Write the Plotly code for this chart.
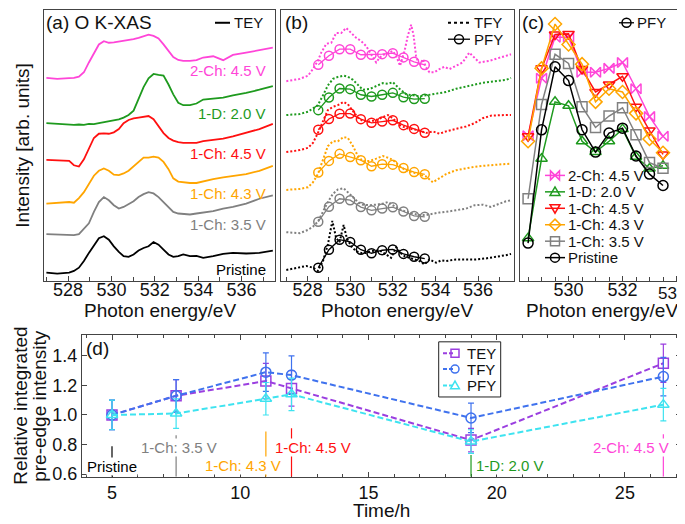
import plotly.graph_objects as go

W, H = 685, 524
FONT = "Liberation Sans, Arial, Helvetica, sans-serif"


def fx(p):
    return p / W


def fy(p):
    return 1 - p / H


# ---------------- data ----------------
states = ["Pristine", "1-Ch: 3.5 V", "1-Ch: 4.3 V", "1-Ch: 4.5 V", "1-D: 2.0 V", "2-Ch: 4.5 V"]
colors = ["#000000", "#808080", "#ffa500", "#ff1010", "#1e9a1e", "#ff45d8"]
pfy_symbols = ["circle-open", "square-open", "diamond-open", "triangle-down-open",
               "triangle-up-open", "bowtie-open"]

# (a) TEY, stacked spectra (arb. units)
energy_tey = [527.0, 527.5, 528.05, 528.27, 528.5, 528.73, 528.96, 529.19, 529.42, 529.65,
              529.88, 530.11, 530.34, 530.56, 530.79, 531.02, 531.25, 531.48, 531.71, 531.94,
              532.17, 532.4, 532.63, 532.85, 533.08, 533.31, 533.62, 533.92, 534.23, 534.69,
              535.15, 535.6, 536.21, 536.82, 537.44]
tey_pristine = [8.3, 7.3, 8.3, 10, 13.3, 20, 28.3, 36, 43.3, 45.3, 41.7, 35, 29.3, 25, 24.3,
                26.7, 30.7, 33.3, 35, 39.3, 36.7, 31.7, 26.7, 24.3, 25, 26.7, 25, 25.3, 23.3,
                25, 27.3, 28.3, 27.7, 28.3, 30.7]
tey_ch35 = [47.3, 46.7, 46.7, 46.3, 47.3, 52.7, 58.3, 70, 80, 85, 81.7, 76.7, 73.3, 75, 77.7,
            80.7, 85, 88, 90, 88.7, 85, 80, 74, 70, 68.3, 68, 67.3, 68.3, 69.3, 70.7, 73.3,
            75, 78.3, 83.3, 86.7]
tey_ch43 = [78.3, 79.3, 80, 79.3, 84, 90, 98.3, 106.7, 111.7, 114, 111.7, 107.7, 107.3, 109,
            111.7, 116, 120.7, 125, 125, 126, 125, 120.7, 113.3, 104, 100.7, 100, 99.3, 99.3,
            101, 103.3, 105, 106.7, 108.3, 111.7, 116.7]
tey_ch45 = [122.7, 122.3, 121.7, 117.3, 116, 123.3, 135, 145, 149.3, 149.7, 149.3, 150.7, 154,
            160, 163.3, 165, 165.7, 166.7, 167.3, 164, 157.3, 150, 145, 142.3, 140.7, 140, 140,
            140, 141.7, 142.7, 144.3, 146.7, 150, 154, 159.3]
tey_d20 = [160, 159.3, 158.3, 158.3, 158.7, 158.3, 159.3, 159, 160, 161, 162, 162.7, 164,
           165.7, 168.3, 172.7, 184, 196.7, 205.7, 210, 209, 208.3, 199.3, 189.3, 180.7, 178.3,
           178.3, 180, 184, 184.7, 186, 188.3, 190.7, 194, 197.7]
tey_2ch45 = [206, 205, 205.7, 206, 207.3, 211.7, 221.7, 230.7, 240, 243.3, 241.7, 242, 242.7,
             243.3, 244.3, 245.3, 246.7, 248.3, 250, 248.7, 246, 240, 233.3, 227.3, 224.3,
             223.3, 223.3, 224, 226.7, 228, 224, 229.3, 231.7, 234, 236.7]
tey_all = [tey_pristine, tey_ch35, tey_ch43, tey_ch45, tey_d20, tey_2ch45]

# (b) TFY, stacked spectra
energy_tfy_pristine = [527.0, 527.47, 527.94, 528.25, 528.48, 528.72, 528.95, 529.16, 529.34,
                       529.5, 529.69, 529.84, 530.05, 530.28, 530.52, 530.75, 530.98, 531.22,
                       531.45, 531.69, 531.92, 532.16, 532.36, 532.55, 532.78, 533.02, 533.25,
                       533.48, 533.72, 534.03, 534.27, 534.5, 534.97, 535.44, 535.91, 536.38,
                       536.84, 537.31, 537.55]
tfy_pristine = [11, 13.3, 15, 13.3, 10, 20, 36.7, 60.7, 43.3, 39.3, 56.7, 43.3, 35, 30, 28.3,
                28.3, 30, 30.7, 30, 26.7, 23.3, 34, 28.3, 25, 23.3, 21.7, 20, 16.7, 21.7, 18.3,
                20.7, 20, 21.7, 21.7, 21.7, 22.7, 24, 26, 27.3]
energy_tfy = [527.0, 527.63, 528.02, 528.25, 528.48, 528.72, 528.95, 529.19, 529.42, 529.69,
              529.89, 530.13, 530.36, 530.59, 530.91, 531.22, 531.53, 531.77, 532.0, 532.31,
              532.63, 532.94, 533.25, 533.56, 533.88, 534.19, 534.5, 534.97, 535.44, 535.83,
              536.22, 536.61, 537.0, 537.31, 537.55]
tfy_ch35 = [49.3, 48.3, 51.7, 55, 60, 70, 80, 88.3, 92.7, 94, 90, 85, 80, 77.3, 76.7, 77.3,
            78.3, 80, 76.7, 72.7, 70, 68.3, 66.7, 66.7, 68.3, 69.3, 70, 71.7, 73.3, 76.7, 77.3,
            75, 78.3, 80.7, 81.7]
tfy_ch43 = [92.3, 93.3, 95, 100, 108.3, 123.3, 136.7, 141.7, 141.7, 146, 145, 136.7, 126.7,
            121.3, 121.7, 124, 126.7, 125, 122.7, 116.7, 111.7, 110, 108.3, 106, 100, 104,
            108.3, 112.3, 114.3, 115.7, 116.7, 117.3, 118.3, 118.7, 119]
tfy_ch45 = [130.7, 132.7, 135, 140, 150, 161.7, 173.3, 176.7, 178.3, 181.7, 179.3, 172.3,
            165.7, 162.3, 161.7, 163.3, 166, 168.3, 165, 158.3, 155, 154, 152.7, 150, 151.7,
            149.3, 151.7, 154.3, 156.7, 160, 165, 167.7, 168.3, 168.3, 168.3]
tfy_d20 = [168.3, 169.3, 171.7, 175, 178.3, 188.3, 198.3, 205, 207, 208.3, 207.3, 204, 199,
           194, 194.7, 198, 200.7, 200, 201.7, 195, 189.3, 188.3, 187.3, 188.3, 189.3, 190.7,
           191.7, 195, 197.3, 199, 201, 202, 203, 204, 206]
energy_tfy_2ch = [527.0, 527.63, 528.02, 528.25, 528.48, 528.64, 528.88, 529.11, 529.34,
                  529.58, 529.81, 530.05, 530.28, 530.52, 530.75, 530.98, 531.22, 531.38,
                  531.61, 531.84, 532.0, 532.16, 532.34, 532.55, 532.7, 532.86, 532.97, 533.09,
                  533.25, 533.41, 533.56, 533.72, 533.95, 534.19, 534.42, 534.66, 534.97,
                  535.28, 535.59, 535.83, 536.06, 536.53, 537.0, 537.55]
tfy_2ch45 = [202.7, 205, 208.3, 215, 223.3, 231.7, 240.7, 241.7, 251.7, 251.7, 256.7, 251.7,
             246.7, 243.3, 238.3, 230, 221.7, 226.7, 230, 231.7, 233.3, 228.3, 218.3, 233.3,
             248.3, 260, 250, 228.3, 218.3, 225, 216.7, 211.7, 211.7, 215, 217.3, 215, 218.3,
             221.7, 231.7, 226.7, 221.7, 223.3, 226.7, 230]
tfy_x_all = [energy_tfy_pristine, energy_tfy, energy_tfy, energy_tfy, energy_tfy, energy_tfy_2ch]
tfy_all = [tfy_pristine, tfy_ch35, tfy_ch43, tfy_ch45, tfy_d20, tfy_2ch45]

# (c) PFY (overlaid) ; (b) uses the same PFY scaled down and stacked
energy_pfy = [528.5, 529.0, 529.5, 530.0, 530.5, 531.0, 531.5, 532.0, 532.5, 533.0, 533.5]
pfy_pristine = [38.3, 153.3, 217.3, 203.3, 153.3, 130.7, 150, 155, 126.7, 108.3, 96.7]
pfy_ch35 = [83.3, 179, 230, 220.7, 176.7, 155.7, 167.3, 175.7, 148.3, 120, 114.3]
pfy_ch43 = [141.7, 215.7, 260.7, 240, 220, 181.7, 195, 191.7, 170, 144, 130]
pfy_ch45 = [146.7, 215.7, 250, 250.7, 215, 191.7, 199.3, 207.7, 176.7, 152.7, 128.3]
pfy_d20 = [43.3, 124, 181.7, 177.7, 141.7, 130.7, 141.7, 154, 126, 114, 116.7]
pfy_2ch45 = [147.3, 205.7, 247.3, 247.3, 211.7, 211.7, 215.7, 221.7, 195, 166.7, 146.7]
pfy_all = [pfy_pristine, pfy_ch35, pfy_ch43, pfy_ch45, pfy_d20, pfy_2ch45]
pfy_b_scale = 1 / 6.3
pfy_b_offset = [7.2, 46.8, 87.5, 130.0, 166.4, 195.9]
c_tick_vals = [530, 532, 534]

# (d) relative integrated pre-edge intensity
time_h = [5, 7.5, 11, 12, 19, 26.5]
time_labels = states
rel_tey = [1.00, 1.13, 1.23, 1.18, 0.83, 1.35]
rel_tey_err = [0.10, 0.11, 0.12, 0.12, 0.08, 0.13]
rel_tfy = [1.00, 1.13, 1.29, 1.27, 0.98, 1.26]
rel_tfy_err = [0.10, 0.11, 0.13, 0.13, 0.10, 0.13]
rel_pfy = [1.00, 1.01, 1.11, 1.14, 0.82, 1.07]
rel_pfy_err = [0.10, 0.10, 0.11, 0.11, 0.08, 0.11]
d_names = ["TEY", "TFY", "PFY"]
d_colors = ["#9b3fe0", "#3f72ee", "#3ee3f0"]
d_symbols = ["square-open", "circle-open", "triangle-up-open"]

# ---------------- figure ----------------
fig = go.Figure()

for i in range(6):
    fig.add_trace(go.Scatter(x=energy_tey, y=tey_all[i], mode="lines", xaxis="x", yaxis="y",
                             line=dict(color=colors[i], width=1.8), showlegend=False))

for i in range(6):
    fig.add_trace(go.Scatter(x=tfy_x_all[i], y=tfy_all[i], mode="lines", xaxis="x2", yaxis="y2",
                             line=dict(color=colors[i], width=2, dash="2px,2px"), showlegend=False))
    yb = [pfy_b_offset[i] + v * pfy_b_scale for v in pfy_all[i]]
    fig.add_trace(go.Scatter(x=energy_pfy, y=yb, mode="lines+markers", xaxis="x2", yaxis="y2",
                             line=dict(color=colors[i], width=1.3),
                             marker=dict(symbol="circle-open", size=9, color=colors[i],
                                         line=dict(width=1.5)),
                             showlegend=False))

for i in [5, 4, 3, 2, 1, 0]:
    fig.add_trace(go.Scatter(x=energy_pfy, y=pfy_all[i], mode="lines+markers", xaxis="x3", yaxis="y3",
                             line=dict(color=colors[i], width=1.5),
                             marker=dict(symbol=pfy_symbols[i], size=10, color=colors[i],
                                         line=dict(width=1.5)),
                             showlegend=False))

for vals, errs, nm, col, sym in zip([rel_tey, rel_tfy, rel_pfy], [rel_tey_err, rel_tfy_err, rel_pfy_err],
                                    d_names, d_colors, d_symbols):
    fig.add_trace(go.Scatter(x=time_h, y=vals, mode="lines+markers", xaxis="x4", yaxis="y4", name=nm,
                             line=dict(color=col, width=2, dash="6px,3px"),
                             marker=dict(symbol=sym, size=10, color=col, line=dict(width=1.5)),
                             error_y=dict(type="data", array=errs, color=col, thickness=1.2, width=3),
                             showlegend=False))

AX = dict(showline=True, linecolor="#444", linewidth=1, mirror=True, showgrid=False,
          zeroline=False, tickcolor="#444", tickfont=dict(size=18, color="#111"))
AXD = dict(AX)
AXD["mirror"] = "ticks"

fig.update_layout(
    width=W, height=H, margin=dict(l=0, r=0, t=0, b=0),
    paper_bgcolor="white", plot_bgcolor="white",
    font=dict(family=FONT, size=15, color="#111"),
    showlegend=False,
    xaxis=dict(domain=[fx(36), fx(267)], range=[526.89, 537.54], tickvals=[528, 530, 532, 534, 536],
               ticks="inside", ticklen=5, ticklabelstandoff=-7,
               minor=dict(dtick=1, tick0=527, ticks="inside", ticklen=4, tickcolor="#444"),
               anchor="y", **AX),
    yaxis=dict(domain=[fy(277), fy(2)], range=[0, 275], showticklabels=False, ticks="", anchor="x", **AX),
    xaxis2=dict(domain=[fx(273), fx(506)], range=[526.75, 537.69], tickvals=[528, 530, 532, 534, 536],
                ticks="inside", ticklen=5, ticklabelstandoff=-7,
                minor=dict(dtick=1, tick0=527, ticks="inside", ticklen=4, tickcolor="#444"),
                anchor="y2", **AX),
    yaxis2=dict(domain=[fy(277), fy(2)], range=[0, 275], showticklabels=False, ticks="", anchor="x2", **AX),
    xaxis3=dict(domain=[fx(511.7), fx(672)], range=[528.19, 534.13], tickvals=c_tick_vals,
                ticktext=[str(v) for v in c_tick_vals[:-1]] + [""],
                ticks="inside", ticklen=5, ticklabelstandoff=-7,
                minor=dict(dtick=0.5, tick0=528, ticks="inside", ticklen=4, tickcolor="#444"),
                anchor="y3", **AX),
    yaxis3=dict(domain=[fy(277), fy(2)], range=[0, 275], showticklabels=False, ticks="", anchor="x3", **AX),
    xaxis4=dict(domain=[fx(74), fx(673.3)], range=[3.83, 27.2], tickvals=[5, 10, 15, 20, 25],
                ticks="inside", ticklen=5,
                minor=dict(dtick=1, tick0=0, ticks="inside", ticklen=3, tickcolor="#444"),
                anchor="y4", **AXD),
    yaxis4=dict(domain=[fy(476), fy(332)], range=[0.582, 1.542], tickvals=[0.6, 0.8, 1.0, 1.2, 1.4],
                ticktext=["0.6", "0.8", "1.0", "1.2", "1.4"], ticks="inside", ticklen=5, anchor="x4", **AXD),
)

ann = []
shapes = []


def text(x, y, s, size=15, color="#111", xanchor="left", yanchor="middle", angle=0, xref="paper",
         yref="paper", bg=None):
    d = dict(x=x, y=y, text=s, showarrow=False, xref=xref, yref=yref, xanchor=xanchor, yanchor=yanchor,
             textangle=angle, font=dict(size=size, color=color, family=FONT), borderpad=0)
    if bg:
        d["bgcolor"] = bg
    ann.append(d)


def key_line(x0, x1, y, color, dash="solid", width=1.5):
    shapes.append(dict(type="line", xref="paper", yref="paper", x0=fx(x0), x1=fx(x1), y0=fy(y), y1=fy(y),
                       line=dict(color=color, width=width, dash=dash)))


def key_marker(cx, cy, symbol, color, r=4.5):
    base = dict(xref="paper", yref="paper", xsizemode="pixel", ysizemode="pixel", xanchor=fx(cx),
                yanchor=fy(cy), line=dict(color=color, width=1.5))
    s = symbol.replace("-open", "")
    if s == "circle":
        shapes.append(dict(type="circle", x0=-r, x1=r, y0=-r, y1=r, **base))
    elif s == "square":
        shapes.append(dict(type="rect", x0=-r, x1=r, y0=-r, y1=r, **base))
    else:
        paths = {
            "diamond": f"M0,{r*1.25} L{r*1.25},0 L0,{-r*1.25} L{-r*1.25},0 Z",
            "triangle-up": f"M{-r*1.1},{-r*0.8} L{r*1.1},{-r*0.8} L0,{r*1.1} Z",
            "triangle-down": f"M{-r*1.1},{r*0.8} L{r*1.1},{r*0.8} L0,{-r*1.1} Z",
            "bowtie": f"M{r},{r} L{r},{-r} L{-r},{r} L{-r},{-r} Z",
        }
        shapes.append(dict(type="path", path=paths[s], **base))


# last tick label of panel (c), kept inside the page edge
text(fx(679), fy(290), str(c_tick_vals[-1]), size=17, xanchor="right")

# panel titles
text(fx(37), fy(15), "(a) O K-XAS", size=19)
text(fx(276), fy(15), "(b)", size=19)
text(fx(513), fy(15), "(c)", size=19)
text(fx(77), fy(346), "(d)", size=19)

# axis titles
for cx in [152, 389, 594]:
    text(fx(cx), fy(307), "Photon energy/eV", size=19, xanchor="center")
text(fx(15), fy(140), "Intensity [arb. units]", size=19, xanchor="center", angle=-90)
text(fx(373), fy(510), "Time/h", size=19, xanchor="center")
text(fx(13), fy(404), "Relative integrated", size=19, xanchor="center", angle=-90)
text(fx(32), fy(404), "pre-edge intensity", size=19, xanchor="center", angle=-90)

# (a) state labels
label_y_a = [11, 57, 89, 129, 170, 214]
for i in range(6):
    text(537.15, label_y_a[i], states[i], color=colors[i], xanchor="right", xref="x", yref="y")

# (a) legend
key_line(207, 222, 15, "#000", width=2)
text(fx(225), fy(15), "TEY")
# (b) legend
key_line(440, 462, 15, "#000", dash="dot", width=2)
text(fx(465), fy(15), "TFY")
key_line(440, 462, 31.7, "#000", width=1.3)
key_marker(451, 31.7, "circle", "#000")
text(fx(465), fy(31.7), "PFY")
# (c) legend
key_line(611, 626, 15, "#000", width=1.3)
key_marker(618.5, 15, "circle", "#000")
text(fx(628), fy(15), "PFY")
leg_y_c = [253.5, 236.8, 220.1, 203.4, 186.7, 170.0]
for i in range(6):
    key_line(537, 557, leg_y_c[i], colors[i], width=1.5)
    key_marker(547, leg_y_c[i], pfy_symbols[i], colors[i])
    text(fx(559), fy(leg_y_c[i]), states[i])

# (d) legend box
shapes.append(dict(type="rect", xref="paper", yref="paper", x0=fx(430.7), x1=fx(492.7), y0=fy(395),
                   y1=fy(339), line=dict(color="#222", width=1), fillcolor="white"))
leg_y_d = [350.7, 366.7, 383.3]
for i in range(3):
    key_line(435, 447, leg_y_d[i], d_colors[i], dash="4px,2px", width=2)
    key_marker(447, leg_y_d[i], d_symbols[i], d_colors[i], r=4)
    text(fx(458), fy(leg_y_d[i]), d_names[i])

# (d) state markers: vertical lines + labels
line_top = [0.789, 0.862, 0.889, 0.911, 0.729, 0.869]
lab_x = [5.0, 7.6, 10.1, 12.85, 19.15, 26.75]
lab_y = [0.654, 0.778, 0.655, 0.778, 0.655, 0.778]
lab_anchor = ["center", "center", "center", "center", "left", "right"]
for i in range(6):
    shapes.append(dict(type="line", xref="x4", yref="y4", x0=time_h[i], x1=time_h[i], y0=0.582,
                       y1=line_top[i], line=dict(color=colors[i], width=1.2)))
    text(lab_x[i], lab_y[i], time_labels[i], color=colors[i], xanchor=lab_anchor[i], xref="x4",
         yref="y4", bg="white")

fig.update_layout(annotations=ann, shapes=shapes)
fig.write_html("out.html")
